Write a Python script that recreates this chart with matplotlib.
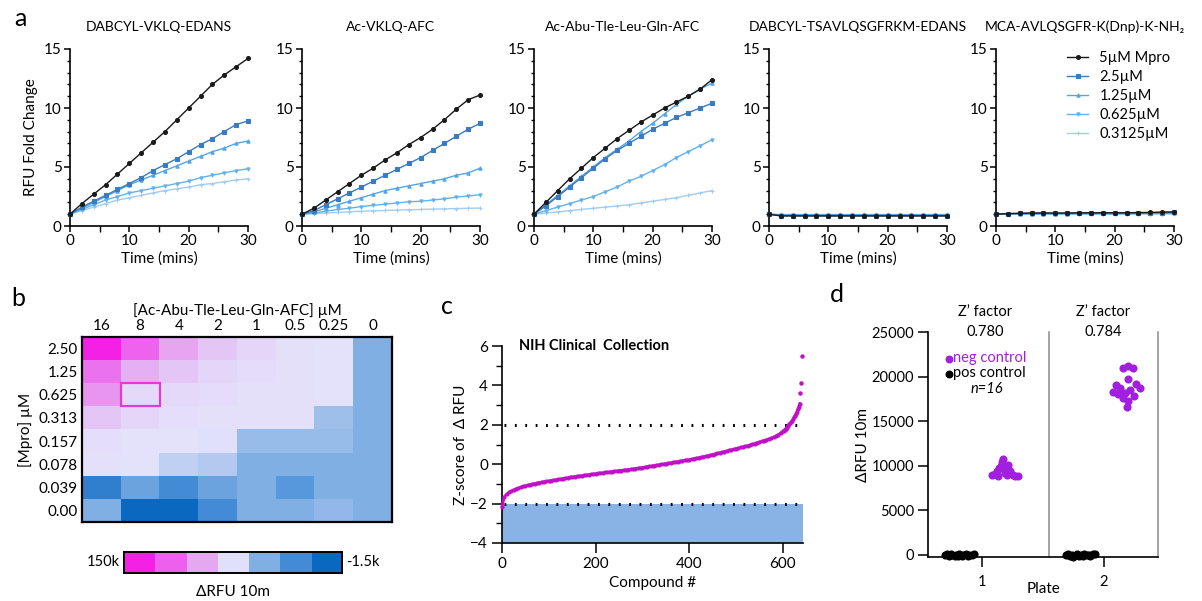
import matplotlib
matplotlib.use("Agg")
import matplotlib.pyplot as plt
from matplotlib.colors import LinearSegmentedColormap, Normalize
from matplotlib.patches import Rectangle
from matplotlib.ticker import MultipleLocator

W, H = 1202, 601

# ── Data ─────────────────────────────────────────────────────────────────────
time_min = [0, 2, 4, 6, 8, 10, 12, 14, 16, 18, 20, 22, 24, 26, 28, 30]
mpro_labels = ["5µM Mpro", "2.5µM", "1.25µM", "0.625µM", "0.3125µM"]
substrates = ["DABCYL-VKLQ-EDANS", "Ac-VKLQ-AFC", "Ac-Abu-Tle-Leu-Gln-AFC",
              "DABCYL-TSAVLQSGFRKM-EDANS", "MCA-AVLQSGFR-K(Dnp)-K-NH\u2082"]

rfu_vklq_edans = [
    [1.0, 1.9, 2.7, 3.5, 4.4, 5.3, 6.2, 7.1, 8.0, 9.0, 10.0, 11.0, 12.0, 12.8, 13.5, 14.2],
    [1.0, 1.6, 2.1, 2.6, 3.1, 3.6, 4.1, 4.7, 5.2, 5.7, 6.3, 6.9, 7.4, 8.0, 8.6, 8.9],
    [1.0, 1.5, 2.0, 2.5, 3.0, 3.5, 3.9, 4.3, 4.7, 5.1, 5.5, 5.9, 6.3, 6.6, 7.0, 7.2],
    [1.0, 1.4, 1.8, 2.2, 2.5, 2.8, 3.0, 3.2, 3.4, 3.6, 3.8, 4.1, 4.3, 4.5, 4.7, 4.85],
    [1.0, 1.3, 1.6, 1.9, 2.2, 2.4, 2.6, 2.8, 3.0, 3.15, 3.3, 3.5, 3.6, 3.75, 3.9, 4.0],
]
rfu_vklq_afc = [
    [1.0, 1.5, 2.2, 2.9, 3.6, 4.3, 4.9, 5.6, 6.2, 6.9, 7.5, 8.2, 9.0, 9.9, 10.7, 11.1],
    [1.0, 1.3, 1.8, 2.3, 2.8, 3.3, 3.8, 4.3, 4.8, 5.3, 5.8, 6.4, 7.0, 7.6, 8.2, 8.7],
    [1.0, 1.2, 1.5, 1.8, 2.1, 2.4, 2.7, 3.0, 3.2, 3.4, 3.6, 3.8, 4.0, 4.3, 4.5, 4.9],
    [1.0, 1.1, 1.25, 1.4, 1.5, 1.65, 1.75, 1.85, 1.95, 2.05, 2.1, 2.2, 2.3, 2.45, 2.55, 2.65],
    [1.0, 1.05, 1.1, 1.15, 1.2, 1.25, 1.28, 1.32, 1.35, 1.38, 1.4, 1.43, 1.45, 1.48, 1.5, 1.52],
]
rfu_abu_tle = [
    [1.0, 2.0, 3.0, 4.0, 4.9, 5.8, 6.6, 7.4, 8.1, 8.8, 9.4, 10.0, 10.5, 11.0, 11.6, 12.4],
    [1.0, 1.7, 2.5, 3.3, 4.1, 4.9, 5.7, 6.4, 7.0, 7.6, 8.2, 8.7, 9.2, 9.6, 10.0, 10.4],
    [1.0, 1.8, 2.6, 3.4, 4.2, 5.0, 5.8, 6.5, 7.2, 8.0, 8.7, 9.5, 10.3, 11.0, 11.6, 12.1],
    [1.0, 1.3, 1.6, 1.9, 2.2, 2.5, 2.9, 3.3, 3.8, 4.2, 4.7, 5.2, 5.8, 6.3, 6.8, 7.3],
    [1.0, 1.1, 1.2, 1.3, 1.4, 1.5, 1.6, 1.7, 1.8, 1.95, 2.1, 2.25, 2.4, 2.6, 2.8, 3.0],
]
rfu_tsavlq = [
    [1.0, 0.85, 0.85, 0.85, 0.85, 0.85, 0.85, 0.85, 0.85, 0.85, 0.85, 0.85, 0.85, 0.85, 0.85, 0.85],
    [1.0, 0.88, 0.88, 0.88, 0.88, 0.88, 0.88, 0.88, 0.88, 0.88, 0.88, 0.88, 0.88, 0.88, 0.88, 0.88],
    [1.0, 0.92, 0.92, 0.92, 0.92, 0.92, 0.92, 0.92, 0.92, 0.92, 0.92, 0.92, 0.92, 0.92, 0.92, 0.92],
    [1.0, 0.96, 0.96, 0.96, 0.96, 0.96, 0.96, 0.96, 0.96, 0.96, 0.96, 0.96, 0.96, 0.96, 0.96, 0.96],
    [1.0, 1.0, 1.0, 1.0, 1.0, 1.0, 1.0, 1.0, 1.0, 1.0, 1.0, 1.0, 1.0, 1.0, 1.0, 1.0],
]
rfu_mca = [
    [1.0, 1.05, 1.08, 1.1, 1.1, 1.1, 1.1, 1.12, 1.12, 1.12, 1.12, 1.12, 1.14, 1.15, 1.18, 1.2],
    [1.0, 1.04, 1.06, 1.08, 1.08, 1.08, 1.08, 1.1, 1.1, 1.1, 1.1, 1.1, 1.1, 1.12, 1.14, 1.15],
    [1.0, 1.02, 1.04, 1.05, 1.05, 1.05, 1.05, 1.06, 1.06, 1.06, 1.06, 1.06, 1.07, 1.08, 1.09, 1.1],
    [1.0, 1.0, 1.02, 1.02, 1.02, 1.02, 1.03, 1.03, 1.03, 1.03, 1.03, 1.04, 1.04, 1.05, 1.05, 1.06],
    [1.0, 1.0, 1.0, 1.0, 1.01, 1.01, 1.01, 1.01, 1.01, 1.01, 1.02, 1.02, 1.02, 1.02, 1.03, 1.03],
]
rfu_panels = [rfu_vklq_edans, rfu_vklq_afc, rfu_abu_tle, rfu_tsavlq, rfu_mca]

# heatmap (ΔRFU 10m, thousands)
substrate_um = ["16", "8", "4", "2", "1", "0.5", "0.25", "0"]
mpro_um = ["2.50", "1.25", "0.625", "0.313", "0.157", "0.078", "0.039", "0.00"]
drfu_k = [
    [150, 78, 42, 24, 16, 11, 10.5, 2.3],
    [70, 36, 24, 16, 13, 11, 10.5, 2.3],
    [50, 15, 15, 13, 11, 11, 10.5, 2.3],
    [24, 16, 12, 11, 11, 11, 4.0, 2.3],
    [12, 10.5, 10.5, 9.8, 3.5, 3.5, 3.3, 2.3],
    [11, 10.5, 6.8, 5.8, 2.6, 2.1, 2.6, 2.4],
    [0.0, 2.0, 0.6, 2.0, 2.2, 1.0, 2.6, 2.3],
    [2.4, -1.3, -1.1, 0.6, 2.6, 2.3, 2.8, 2.3],
]
cbar_levels_k = [150, 80, 40, 10, 2.5, 0.5, -1.5]

# NIH clinical collection z-scores (sorted)
compound_no = list(range(0, 601, 5)) + list(range(602, 637, 2))
zscore = [
    -2.15, -1.65, -1.52, -1.43, -1.36, -1.30, -1.25, -1.21, -1.17, -1.13,
    -1.10, -1.07, -1.04, -1.01, -0.98, -0.96, -0.93, -0.91, -0.89, -0.87,
    -0.85, -0.83, -0.81, -0.79, -0.77, -0.75, -0.73, -0.71, -0.69, -0.67,
    -0.65, -0.63, -0.62, -0.60, -0.58, -0.57, -0.55, -0.53, -0.52, -0.50,
    -0.48, -0.47, -0.45, -0.44, -0.42, -0.41, -0.39, -0.38, -0.36, -0.35,
    -0.33, -0.32, -0.30, -0.29, -0.27, -0.26, -0.24, -0.22, -0.21, -0.19,
    -0.17, -0.15, -0.13, -0.11, -0.09, -0.07, -0.05, -0.03, -0.01, 0.01,
    0.03, 0.05, 0.07, 0.09, 0.11, 0.13, 0.15, 0.17, 0.19, 0.21,
    0.23, 0.25, 0.28, 0.30, 0.33, 0.35, 0.38, 0.40, 0.43, 0.46,
    0.49, 0.52, 0.55, 0.58, 0.61, 0.64, 0.67, 0.70, 0.73, 0.76,
    0.79, 0.82, 0.85, 0.88, 0.91, 0.94, 0.98, 1.01, 1.05, 1.09,
    1.12, 1.16, 1.20, 1.24, 1.28, 1.32, 1.37, 1.43, 1.50, 1.58,
    1.67,
    1.71, 1.76, 1.81, 1.86, 1.92, 1.97, 2.02, 2.08, 2.14, 2.21,
    2.29, 2.38, 2.47, 2.56, 2.66, 2.78, 2.92, 3.08,
]
outlier_no = [637, 638, 640]
outlier_z = [3.6, 4.1, 5.5]

# Z' factor plates
plate_zfactor = ["0.780", "0.784"]
p1_pos_x = [0.69, 0.71, 0.72, 0.74, 0.75, 0.77, 0.78, 0.80, 0.81, 0.83, 0.84, 0.86, 0.88, 0.89, 0.91, 0.93]
p1_pos_y = [-80, 40, -150, 60, -60, -180, 20, -100, 80, -160, -20, 50, -120, -60, 30, 90]
p1_neg_x = [1.08, 1.10, 1.12, 1.13, 1.14, 1.15, 1.16, 1.17, 1.18, 1.19, 1.20, 1.21, 1.23, 1.25, 1.27, 1.29]
p1_neg_y = [8900, 9100, 9400, 8800, 9700, 10000, 10400, 10800, 9600, 9200, 8900, 10100, 9400, 9000, 8800, 8800]
p2_pos_x = [1.69, 1.71, 1.72, 1.74, 1.75, 1.77, 1.78, 1.80, 1.81, 1.83, 1.84, 1.86, 1.88, 1.89, 1.91, 1.93]
p2_pos_y = [-60, 60, -140, 20, -200, -40, 70, -120, -10, -180, 40, -80, 0, -150, 50, 110]
p2_neg_x = [2.20, 2.16, 2.24, 2.20, 2.10, 2.14, 2.08, 2.27, 2.30, 2.12, 2.18, 2.22, 2.25, 2.16, 2.20, 2.19]
p2_neg_y = [21200, 21000, 21000, 19700, 19000, 18700, 18300, 19200, 18700, 18000, 18100, 18500, 17800, 17600, 17300, 16600]

# ── Style ────────────────────────────────────────────────────────────────────
plt.rcParams.update({
    "font.family": ["Lato", "DejaVu Sans"],
    "font.size": 10.5,
    "axes.linewidth": 1.2,
    "xtick.major.width": 1.1,
    "ytick.major.width": 1.1,
    "xtick.minor.width": 1.0,
    "ytick.minor.width": 1.0,
    "xtick.labelsize": 11,
    "ytick.labelsize": 11,
})

line_colors = ["#1a1a1a", "#3a7cc2", "#55a6e4", "#64b2ec", "#a2cdf0"]
markers = ["o", "s", "^", "v", "+"]
msizes = [2.8, 2.6, 2.4, 2.3, 2.8]

fig = plt.figure(figsize=(W / 100, H / 100), dpi=100)

def fx(px):
    return px / W

def fy(py):
    return 1 - py / H

# ═══════════════════════════════════════════════════════════════════════════════
# a. kinetics
# ═══════════════════════════════════════════════════════════════════════════════
lefts = [70, 302, 534, 769, 996]
for i, (left, title, series) in enumerate(zip(lefts, substrates, rfu_panels)):
    ax = fig.add_axes([fx(left), fy(226), 178 / W, 177 / H])
    for k in range(len(series) - 1, -1, -1):
        ax.plot(time_min, series[k], color=line_colors[k], lw=1.0,
                marker=markers[k], ms=msizes[k], mew=0.8, clip_on=False,
                label=mpro_labels[k], zorder=3 + (5 - k))
    ax.set_xlim(0, 30)
    ax.set_ylim(0, 15)
    ax.xaxis.set_major_locator(MultipleLocator(10))
    ax.xaxis.set_minor_locator(MultipleLocator(5))
    ax.yaxis.set_major_locator(MultipleLocator(5))
    ax.yaxis.set_minor_locator(MultipleLocator(1))
    ax.tick_params(which="major", length=4, pad=2)
    ax.tick_params(which="minor", length=2.5)
    ax.tick_params(axis="x", which="minor", length=4)
    for s in ("top", "right"):
        ax.spines[s].set_visible(False)
    ax.set_xlabel("Time (mins)", fontsize=11, labelpad=2)
    ax.set_title(title, fontsize=10, pad=13)
    if i == 0:
        ax.set_ylabel("RFU Fold Change", fontsize=11)
    if i == 4:
        h, l = ax.get_legend_handles_labels()
        ax.legend(h[::-1], l[::-1], loc="upper right", frameon=False,
                  fontsize=10.5, handlelength=1.4, labelspacing=0.35,
                  bbox_to_anchor=(1.03, 1.04), borderaxespad=0.2)

# ═══════════════════════════════════════════════════════════════════════════════
# b. heatmap
# ═══════════════════════════════════════════════════════════════════════════════
nodes = [-1.5, 0.5, 2.5, 10, 40, 80, 150]
node_colors = ["#0a68c0", "#4a90d8", "#90b8e8", "#e4e2fb", "#e6a8f2", "#ee60ee", "#f420e6"]
span = nodes[-1] - nodes[0]
cmap = LinearSegmentedColormap.from_list(
    "drfu", [((v - nodes[0]) / span, c) for v, c in zip(nodes, node_colors)])
norm = Normalize(vmin=nodes[0], vmax=nodes[-1])

axb = fig.add_axes([fx(82), fy(522), 310 / W, 185 / H])
axb.imshow(drfu_k, cmap=cmap, norm=norm, aspect="auto", interpolation="nearest")
axb.add_patch(Rectangle((0.5, 1.5), 1, 1, fill=False, ec="#e23ad6", lw=1.6))
axb.set_xticks(range(len(substrate_um)))
axb.set_xticklabels(substrate_um)
axb.set_yticks(range(len(mpro_um)))
axb.set_yticklabels(mpro_um)
axb.xaxis.tick_top()
axb.xaxis.set_label_position("top")
axb.tick_params(length=0, pad=3, labelsize=11)
axb.set_xlabel("[Ac-Abu-Tle-Leu-Gln-AFC] µM", fontsize=11, labelpad=3)
axb.set_ylabel("[Mpro] µM", fontsize=11, labelpad=4)
for s in axb.spines.values():
    s.set_linewidth(1.6)

axcb = fig.add_axes([fx(124), fy(573), 218 / W, 21 / H])
axcb.imshow([cbar_levels_k], cmap=cmap, norm=norm, aspect="auto", interpolation="nearest")
axcb.set_xticks([])
axcb.set_yticks([])
for s in axcb.spines.values():
    s.set_linewidth(1.4)
axcb.text(-0.02, 0.5, "150k", transform=axcb.transAxes, ha="right", va="center", fontsize=10.5)
axcb.text(1.02, 0.5, "-1.5k", transform=axcb.transAxes, ha="left", va="center", fontsize=10.5)
axcb.text(0.5, -0.55, "\u0394RFU 10m", transform=axcb.transAxes, ha="center", va="top", fontsize=11)

# ═══════════════════════════════════════════════════════════════════════════════
# c. NIH clinical collection screen
# ═══════════════════════════════════════════════════════════════════════════════
axc = fig.add_axes([fx(502), fy(543), 301 / W, 197 / H])
axc.axhspan(-4, -2, color="#88b3e4", lw=0, zorder=1)
axc.hlines([2, -2], 5, 640, colors="black", lw=2.2, linestyles=(0, (0.6, 2.8)), zorder=2)
axc.plot(compound_no, zscore, color="#c010c8", lw=2.0, marker="o", ms=2.0, zorder=3, clip_on=False)
axc.plot(outlier_no, outlier_z, "o", color="#c010c8", ms=2.2, zorder=3, clip_on=False)
axc.set_xlim(0, 643)
axc.set_ylim(-4, 6)
axc.set_xticks([0, 200, 400, 600])
axc.yaxis.set_major_locator(MultipleLocator(2))
axc.yaxis.set_minor_locator(MultipleLocator(1))
axc.tick_params(which="major", length=7, pad=3)
axc.tick_params(which="minor", length=4)
for s in ("top", "right"):
    axc.spines[s].set_visible(False)
axc.set_xlabel("Compound #", fontsize=11, labelpad=4)
axc.set_ylabel("Z-score of  \u0394 RFU", fontsize=11, labelpad=2)
axc.text(0.055, 1.0, "NIH Clinical  Collection", transform=axc.transAxes,
         fontsize=10.5, fontweight="bold", va="center", ha="left")

# ═══════════════════════════════════════════════════════════════════════════════
# d. Z' factor controls
# ═══════════════════════════════════════════════════════════════════════════════
neg_color = "#a31fe0"
axd = fig.add_axes([fx(928), fy(557), 230 / W, 225 / H])
axd.scatter(p1_pos_x + p2_pos_x, p1_pos_y + p2_pos_y, s=34, color="black", lw=0, zorder=3, clip_on=False)
axd.scatter(p1_neg_x + p2_neg_x, p1_neg_y + p2_neg_y, s=34, color=neg_color, lw=0, zorder=3)
for xv in (1.55, 2.45):
    axd.axvline(xv, ymin=0, ymax=1, color="#8a8a8a", lw=1.1, clip_on=False)
axd.set_xlim(0.55, 2.45)
axd.set_ylim(-250, 25000)
axd.set_xticks([1, 2])
axd.set_yticks([0, 5000, 10000, 15000, 20000, 25000])
axd.tick_params(axis="x", length=7, pad=6, labelsize=10.5)
axd.tick_params(axis="y", length=7, pad=3, labelsize=10.5)
for s in ("top", "right"):
    axd.spines[s].set_visible(False)
axd.set_xlabel("Plate", fontsize=11, labelpad=-5)
axd.set_ylabel("\u0394RFU 10m", fontsize=11, labelpad=1)
for xv, zf in zip([1.02, 2.0], plate_zfactor):
    axd.text(xv, 1.09, "Z\u2019 factor", transform=axd.get_xaxis_transform(),
             ha="center", va="center", fontsize=10.5)
    axd.text(xv, 1.0, zf, transform=axd.get_xaxis_transform(),
             ha="center", va="center", fontsize=10.5)
axd.scatter([0.09], [0.88], s=22, color=neg_color, transform=axd.transAxes, clip_on=False)
axd.scatter([0.09], [0.815], s=22, color="black", transform=axd.transAxes, clip_on=False)
axd.text(0.11, 0.885, "neg control", color=neg_color, transform=axd.transAxes,
         ha="left", va="center", fontsize=10.5)
axd.text(0.11, 0.82, "pos control", color="black", transform=axd.transAxes,
         ha="left", va="center", fontsize=10.5)
axd.text(0.255, 0.745, "n=16", style="italic", transform=axd.transAxes,
         ha="center", va="center", fontsize=10.5)

# ── panel letters ────────────────────────────────────────────────────────────
for letter, px, py in [("a", 20, 18), ("b", 18, 298), ("c", 447, 307), ("d", 837, 295)]:
    fig.text(fx(px), fy(py), letter, fontsize=18, ha="center", va="center")

fig.savefig("out.png", dpi=100)
